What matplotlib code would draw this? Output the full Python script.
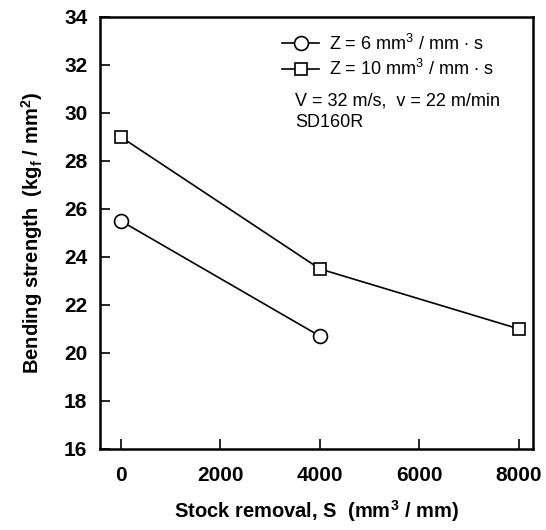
import matplotlib
matplotlib.use("Agg")
import matplotlib.pyplot as plt

plt.rcParams['font.family'] = ['Liberation Sans', 'DejaVu Sans']
plt.rcParams['mathtext.fontset'] = 'custom'
plt.rcParams['mathtext.rm'] = 'Liberation Sans'
plt.rcParams['mathtext.bf'] = 'Liberation Sans:bold'

x_z6 = [0, 4000]
y_z6 = [25.5, 20.7]
x_z10 = [0, 4000, 8000]
y_z10 = [29.0, 23.5, 21.0]
labels = [r"Z = 6 mm$^3$ / mm $\bullet$ s", r"Z = 10 mm$^3$ / mm $\bullet$ s"]
xticks = [0, 2000, 4000, 6000, 8000]
yticks = [16, 18, 20, 22, 24, 26, 28, 30, 32, 34]

fig = plt.figure(figsize=(5.46, 5.30), dpi=100)
ax = fig.add_axes([0.183, 0.153, 0.793, 0.815])

ax.plot(x_z6, y_z6, color='black', lw=1.2, marker='o', ms=10, mfc='white', mec='black', mew=1.2, label=labels[0])
ax.plot(x_z10, y_z10, color='black', lw=1.2, marker='s', ms=9, mfc='white', mec='black', mew=1.2, label=labels[1])

ax.set_xlim(-420, 8280)
ax.set_ylim(16, 34)
ax.set_xticks(xticks)
ax.set_yticks(yticks)
ax.tick_params(direction='in', length=7, width=1.2, labelsize=15)
ax.tick_params(axis='x', pad=12)
ax.tick_params(axis='y', pad=9)
for lab in ax.get_xticklabels() + ax.get_yticklabels():
    lab.set_fontweight('bold')
for sp in ax.spines.values():
    sp.set_linewidth(1.8)

ax.set_xlabel(r"Stock removal, S  (mm$^\mathbf{3}$ / mm)", fontsize=14.5, fontweight='bold', labelpad=10)
ax.set_ylabel(r"Bending strength  (kg$_\mathbf{f}$ / mm$^\mathbf{2}$)", fontsize=14.5, fontweight='bold', labelpad=14)

leg = ax.legend(loc='upper left', bbox_to_anchor=(0.405, 0.978), frameon=False, fontsize=13,
                handlelength=2.0, handletextpad=0.6, labelspacing=0.3, borderaxespad=0)
ax.text(0.45, 0.805, "V = 32 m/s,  v = 22 m/min", transform=ax.transAxes, fontsize=13, va='center')
ax.text(0.45, 0.755, "SD160R", transform=ax.transAxes, fontsize=13, va='center')

fig.savefig("out.png", dpi=100)
